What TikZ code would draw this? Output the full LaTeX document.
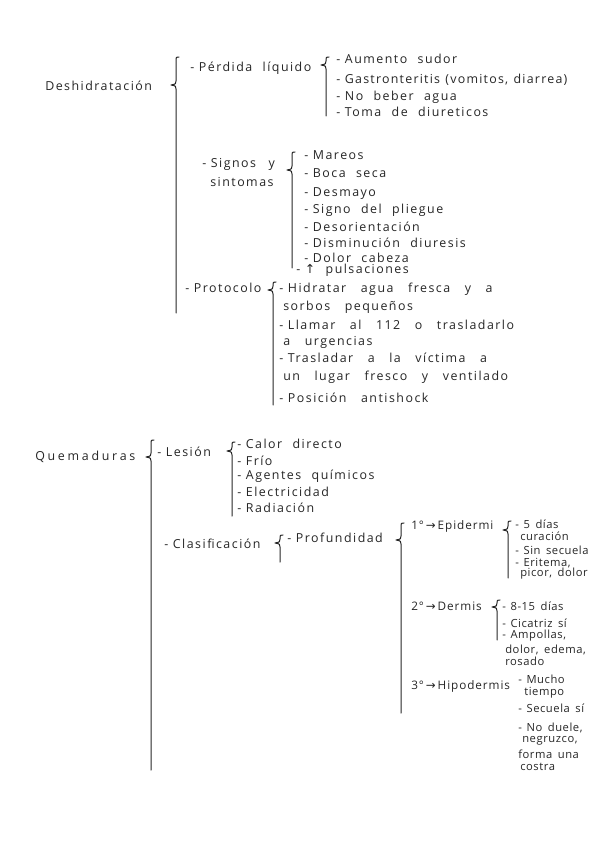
\documentclass[tikz,border=0pt]{standalone}
\usepackage{fontspec}
\setmainfont{Open Sans}[LetterSpace=12.0,WordSpace=2.2]
\newfontfamily\widef{Open Sans}[LetterSpace=12.0,WordSpace=3.1]
\newfontfamily\narf{Open Sans}[LetterSpace=10.0,WordSpace=1.2]
\newfontfamily\lsf{Open Sans}[LetterSpace=22.0]
\newfontfamily\tightf{Open Sans}[LetterSpace=5.0,WordSpace=1.6]
\newfontfamily\degf{Open Sans}[LetterSpace=8.0]
\newfontfamily\symf{DejaVu Sans}
\newcommand{\fs}{\fontsize{9.3}{10}\selectfont}
\newcommand{\fw}{\widef\fontsize{9.3}{10}\selectfont}
\newcommand{\fn}{\narf\fontsize{9.3}{10}\selectfont}
\newcommand{\fl}{\lsf\fontsize{9.3}{10}\selectfont}
\newcommand{\ft}{\tightf\fontsize{8.4}{10}\selectfont}
\newcommand{\fdg}{\degf\fontsize{8.8}{10}\selectfont}
\newcommand{\dd}{-\hspace{3.5pt}}
% left brace: x, top, tip, bottom
\newcommand{\lbr}[4]{%
\draw[brl] (#1+3,#2) .. controls (#1,#2) .. (#1,#2+3) -- (#1,#3-4) .. controls (#1,#3-1) .. (#1-5,#3) .. controls (#1,#3+1) .. (#1,#3+4) -- (#1,#4);}
\begin{document}
\begin{tikzpicture}[x=0.75pt,y=-0.75pt,
  t/.style={anchor=west,inner sep=0pt,font=\fs,text=black!85},
  tw/.style={t,font=\fw},
  tn/.style={t,font=\fn},
  tl/.style={t,font=\fl},
  tt/.style={t,font=\ft},
  tg/.style={t,font=\fdg},
  brl/.style={draw=black!85,line width=0.75pt,line cap=round,line join=round}]
\useasboundingbox (0,0) rectangle (601,848);
% ---------- Deshidratacion
\node[t] (desh) at (45,86) {Deshidratación};
\lbr{176}{57}{85}{313}
\node[t] (perd) at (190,68) {\dd Pérdida líquido};
\lbr{326}{57}{65}{116}
\node[t] (p1) at (336,59) {\dd Aumento sudor};
\node[tn] (p2) at (336,80) {\dd Gastronteritis (vomitos, diarrea)};
\node[t] (p3) at (336,97) {\dd No beber agua};
\node[t] (p4) at (336,112) {\dd Toma de diureticos};
\node[t] (sig) at (202,164) {\dd Signos\quad y};
\node[t] (sint) at (210,182) {sintomas};
\lbr{292}{152}{170}{268}
\node[t] (s1) at (304,155) {\dd Mareos};
\node[t] (s2) at (304,173) {\dd Boca seca};
\node[t] (s3) at (304,194) {\dd Desmayo};
\node[t] (s4) at (304,210) {\dd Signo del pliegue};
\node[t] (s5) at (304,227) {\dd Desorientación};
\node[t] (s6) at (304,243) {\dd Disminución diuresis};
\node[t] (s7) at (304,258) {\dd Dolor cabeza};
\node[t] (s8) at (296,270) {\dd{\symf ↑} pulsaciones};
\node[t] (prot) at (185,288) {\dd Protocolo};
\lbr{273}{282}{290}{405}
\node[tw] (r1) at (279,289) {\dd Hidratar agua fresca y a};
\node[tw] (r1b) at (283,307) {sorbos pequeños};
\node[tw] (r2) at (279,325) {\dd Llamar al 112 o trasladarlo};
\node[tw] (r2b) at (283,342) {a urgencias};
\node[tw] (r3) at (279,358) {\dd Trasladar a la víctima a};
\node[tw] (r3b) at (283,377) {un lugar fresco y ventilado};
\node[tw] (r4) at (279,398) {\dd Posición antishock};
% ---------- Quemaduras
\node[tl] (quem) at (35,457) {Quemaduras};
\lbr{151}{440}{457}{770}
\node[t] (les) at (157,452) {\dd Lesión};
\lbr{232}{442}{451}{516}
\node[t] (l1) at (237,444) {\dd Calor directo};
\node[t] (l2) at (237,461) {\dd Frío};
\node[t] (l3) at (237,476) {\dd Agentes químicos};
\node[t] (l4) at (237,492) {\dd Electricidad};
\node[t] (l5) at (237,508) {\dd Radiación};
\node[t] (clas) at (164,544) {\dd Clasificación};
\lbr{280}{535}{543}{562}
\node[t] (prof) at (287,538) {\dd Profundidad};
\lbr{401}{523}{540}{713}
\node[tg] (g1) at (411,526) {1°\,{\symf →}\,Epidermi};
\lbr{508}{521}{530}{578}
\node[tt] (e1) at (515,524) {\dd 5 días};
\node[tt] (e1b) at (520,536) {curación};
\node[tt] (e2) at (515,550) {\dd Sin secuela};
\node[tt] (e3) at (515,563) {\dd Eritema,};
\node[tt] (e3b) at (520,574) {picor, dolor};
\node[tg] (g2) at (411,606) {2°\,{\symf →}\,Dermis};
\lbr{497}{600}{607}{640}
\node[tt] (d1) at (502,606) {\dd 8-15 días};
\node[tt] (d2) at (502,623) {\dd Cicatriz sí};
\node[tt] (d3) at (502,636) {\dd Ampollas,};
\node[tt] (d3b) at (505,650) {dolor, edema,};
\node[tt] (d3c) at (505,661) {rosado};
\node[tg] (g3) at (411,686) {3°\,{\symf →}\,Hipodermis};
\node[tt] (h1) at (518,679) {\dd Mucho};
\node[tt] (h1b) at (524,693) {tiempo};
\node[tt] (h2) at (518,708) {\dd Secuela sí};
\node[tt] (h3) at (518,728) {\dd No duele,};
\node[tt] (h3b) at (522,741) {negruzco,};
\node[tt] (h3c) at (518,754) {forma una};
\node[tt] (h3d) at (520,767) {costra};
\end{tikzpicture}
\end{document}
